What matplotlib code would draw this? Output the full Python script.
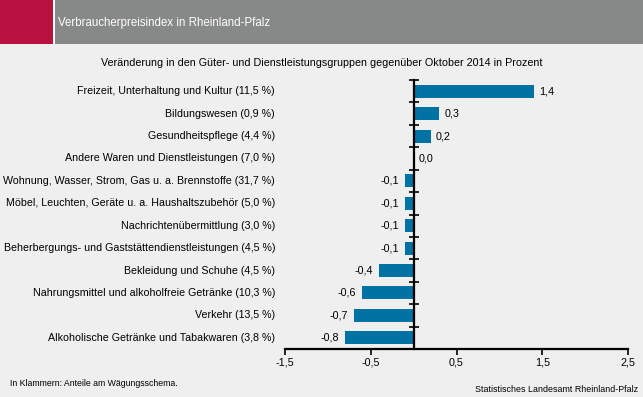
import matplotlib
matplotlib.use("Agg")
import matplotlib.pyplot as plt
import matplotlib.transforms as mtransforms
import numpy as np

categories = [
    "Freizeit, Unterhaltung und Kultur (11,5 %)",
    "Bildungswesen (0,9 %)",
    "Gesundheitspflege (4,4 %)",
    "Andere Waren und Dienstleistungen (7,0 %)",
    "Wohnung, Wasser, Strom, Gas u. a. Brennstoffe (31,7 %)",
    "Möbel, Leuchten, Geräte u. a. Haushaltszubehör (5,0 %)",
    "Nachrichtenübermittlung (3,0 %)",
    "Beherbergungs- und Gaststättendienstleistungen (4,5 %)",
    "Bekleidung und Schuhe (4,5 %)",
    "Nahrungsmittel und alkoholfreie Getränke (10,3 %)",
    "Verkehr (13,5 %)",
    "Alkoholische Getränke und Tabakwaren (3,8 %)",
]
values = [1.4, 0.3, 0.2, 0.0, -0.1, -0.1, -0.1, -0.1, -0.4, -0.6, -0.7, -0.8]
xticks = [-1.5, -0.5, 0.5, 1.5, 2.5]

title = "Verbraucherpreisindex in Rheinland-Pfalz"
subtitle = "Veränderung in den Güter- und Dienstleistungsgruppen gegenüber Oktober 2014 in Prozent"
note = "In Klammern: Anteile am Wägungsschema."
source = "Statistisches Landesamt Rheinland-Pfalz"

plt.rcParams['font.family'] = ['Liberation Sans', 'DejaVu Sans']

bg = "#EEEFEE"
bar_color = "#0072A3"
fs = 7.75
W, H = 643, 397
fig = plt.figure(figsize=(W / 100, H / 100), dpi=100, facecolor=bg)

# header band
fig.patches.append(plt.Rectangle((0, 1 - 44 / H), 53 / W, 44 / H, transform=fig.transFigure,
                                 facecolor="#B91240", edgecolor="none"))
fig.patches.append(plt.Rectangle((53 / W, 1 - 44 / H), 2 / W, 44 / H, transform=fig.transFigure,
                                 facecolor="white", edgecolor="none"))
fig.patches.append(plt.Rectangle((55 / W, 1 - 44 / H), 1 - 55 / W, 44 / H, transform=fig.transFigure,
                                 facecolor="#878888", edgecolor="none"))
fig.text(58 / W, 1 - 23 / H, title, color="white", fontsize=8.3, va="center", ha="left")
fig.text(321.5 / W, 1 - 63 / H, subtitle, color="black", fontsize=fs, va="center", ha="center")
fig.text(10 / W, 1 - 384 / H, note, color="black", fontsize=6.3, va="center", ha="left")
fig.text(638 / W, 1 - 389 / H, source, color="black", fontsize=6.4, va="center", ha="right")

left, right = 285 / W, 628 / W
bottom, top = 1 - 349 / H, 1 - 80 / H
ax = fig.add_axes([left, bottom, right - left, top - bottom])
ax.set_facecolor(bg)

y = np.arange(len(categories))
ax.barh(y, values, height=0.58, color=bar_color, zorder=2)
ax.set_xlim(-1.5, 2.5)
ax.set_ylim(len(categories) - 0.5, -0.5)

ax.set_xticks(xticks)
ax.set_xticklabels([f"{v:.1f}".replace(".", ",") for v in xticks], fontsize=fs)
ax.tick_params(axis="x", direction="out", length=4, width=1.2, pad=2)

for s in ["top", "right"]:
    ax.spines[s].set_visible(False)
ax.spines["bottom"].set_linewidth(1.6)
ax.spines["left"].set_position(("data", 0))
ax.spines["left"].set_linewidth(1.6)
ax.spines["left"].set_zorder(3)
ax.set_yticks(np.arange(-0.5, len(categories), 1.0))
ax.set_yticklabels([])
ax.tick_params(axis="y", direction="inout", length=7, width=1.2)

blend = mtransforms.blended_transform_factory(ax.transAxes, ax.transData)
for yi, cat in zip(y, categories):
    ax.text(-10 / (right - left) / W, yi, cat, transform=blend, ha="right", va="center", fontsize=7.65)

for yi, v in zip(y, values):
    lab = f"{v:.1f}".replace(".", ",")
    if v > 0:
        ax.annotate(lab, (v, yi), xytext=(3.6, 0), textcoords="offset points", ha="left", va="center", fontsize=fs)
    elif v < 0:
        ax.annotate(lab, (v, yi), xytext=(-4.3, 0), textcoords="offset points", ha="right", va="center", fontsize=fs)
    else:
        ax.annotate(lab, (v, yi), xytext=(3.6, 0), textcoords="offset points", ha="left", va="center", fontsize=fs)

fig.savefig("out.png", dpi=100, facecolor=bg)
